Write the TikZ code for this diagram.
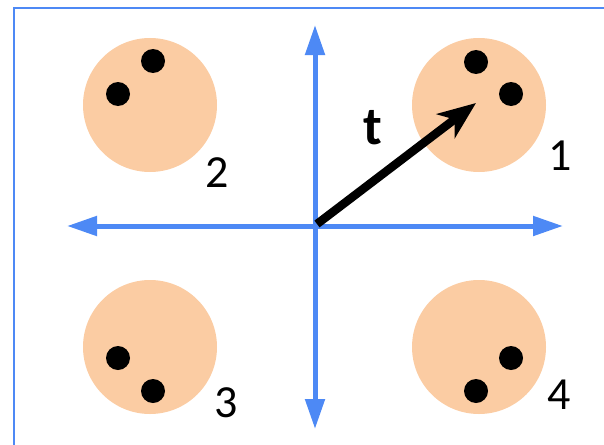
\documentclass[tikz,border=0pt]{standalone}
\usepackage{fontspec}
\setmainfont{Carlito}
\usetikzlibrary{arrows.meta}
\definecolor{axisblue}{RGB}{77,137,245}
\definecolor{peach}{RGB}{251,204,163}
\tikzset{
  blob/.style={circle,fill=peach,minimum size=134pt,inner sep=0pt},
  dot/.style={circle,fill=black,minimum size=24pt,inner sep=0pt},
  axis/.style={axisblue,line width=5pt,-{Triangle[length=30pt,width=19pt]}},
  vec/.style={black,line width=8.5pt,-{Stealth[length=38pt,width=30pt,inset=11pt]}},
  lbl/.style={font=\fontsize{46}{46}\selectfont,inner sep=0pt},
}
\begin{document}
\begin{tikzpicture}[x=1pt,y=-1pt]
\useasboundingbox (0,0) rectangle (604,444);
\draw[axisblue,line width=2.2pt] (14,8) rectangle (640,480);
% blobs
\node[blob] (c1) at (479,105) {};
\node[blob] (c2) at (150,105) {};
\node[blob] (c3) at (150,347) {};
\node[blob] (c4) at (479,347) {};
\node[dot] (d1a) at (476,62) {};
\node[dot] (d1b) at (511,94) {};
\node[dot] (d2a) at (153,61) {};
\node[dot] (d2b) at (118,94) {};
\node[dot] (d3a) at (118,358) {};
\node[dot] (d3b) at (153,391) {};
\node[dot] (d4a) at (511,358) {};
\node[dot] (d4b) at (476,391) {};
% axes
\coordinate (o) at (315,226);
\coordinate (L) at (67,226);
\coordinate (R) at (563,226);
\coordinate (U) at (315,25);
\coordinate (D) at (315,429);
\draw[axis] (o) -- (L);
\draw[axis] (o) -- (R);
\draw[axis] (o) -- (U);
\draw[axis] (o) -- (D);
% vector
\coordinate (o2) at (317,224);
\coordinate (tip) at (476,103);
\draw[vec] (o2) -- (tip);
\node[font=\fontsize{54}{54}\bfseries\selectfont,inner sep=0pt] (t) at (373,128) {t};
\node[lbl] (n1) at (560,156) {1};
\node[lbl] (n2) at (217,173) {2};
\node[lbl] (n3) at (226,403) {3};
\node[lbl] (n4) at (559,395) {4};
\end{tikzpicture}
\end{document}
